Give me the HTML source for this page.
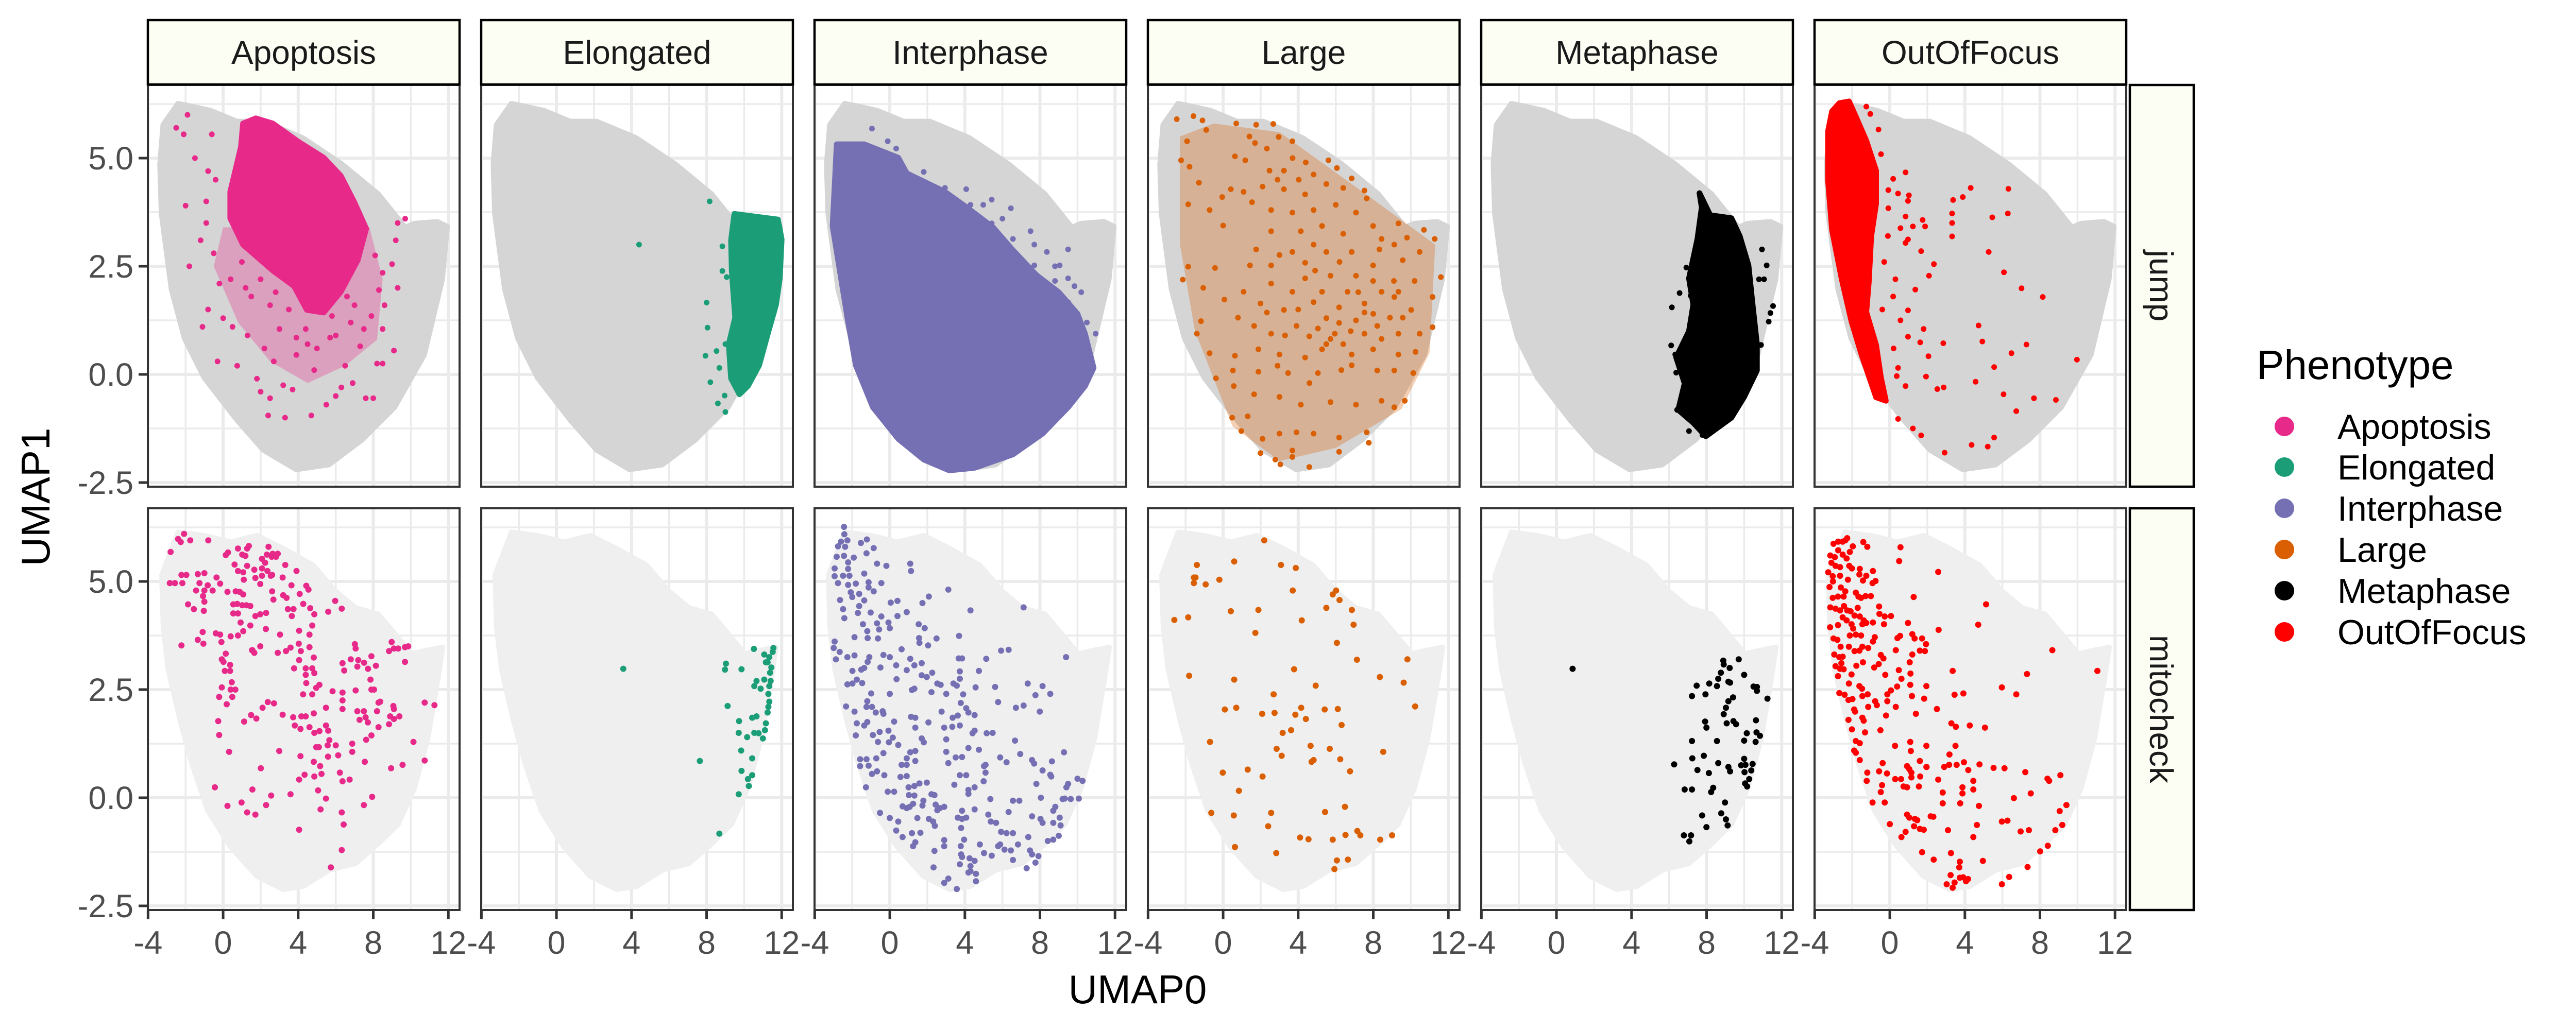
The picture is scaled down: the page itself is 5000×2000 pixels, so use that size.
<!DOCTYPE html>
<html><head><meta charset="utf-8"><style>
html,body{margin:0;padding:0;background:#fff;}
svg{display:block;font-family:"Liberation Sans",sans-serif;}
</style></head><body>
<svg id="chart" width="5000" height="2000" viewBox="0 0 5000 2000" xmlns="http://www.w3.org/2000/svg">
<rect x="0" y="0" width="5000" height="2000" fill="#ffffff"/>
<g id="panels"></g>
<g id="axes"></g>
<text x="2208" y="1948" font-size="78" text-anchor="middle" fill="#000">UMAP0</text>
<text x="0" y="0" font-size="78" text-anchor="middle" fill="#000" transform="translate(96,965) rotate(-90)">UMAP1</text>
<g id="legend">
<text x="4380" y="736" font-size="80" fill="#000">Phenotype</text>
</g>
</svg>
<script>
const phenotypes = ["Apoptosis","Elongated","Interphase","Large","Metaphase","OutOfFocus"];
const colors = ["#E7298A","#1B9E77","#7570B3","#D95F02","#000000","#FF0000"];
const datasets = ["jump","mitocheck"];
const xTicks = [-4,0,4,8,12];
const xTickLabels = ["-4","0","4","8","12"];
const xMinor = [-2,2,6,10];
const yTicks = [-2.5,0,2.5,5];
const yTickLabels = ["-2.5","0.0","2.5","5.0"];
const yMinor = [-1.25,1.25,3.75,6.25];

const jumpGrayHull = [[-2.41,6.26],[-1.7,6.2],[-0.66,6.1],[0.74,5.85],[2.14,5.85],[4.24,5.47],[6.34,4.86],[8.27,4.17],[9.7,3.4],[10.19,3.49],[11.42,3.53],[11.94,3.42],[11.68,2.2],[10.72,0.45],[9.14,-0.76],[7.39,-1.52],[5.64,-2.09],[3.89,-2.2],[2.14,-1.75],[0.74,-1.06],[-1.01,-0.08],[-2.06,0.83],[-2.76,1.97],[-3.29,3.72],[-3.37,4.86],[-3.2,5.77]];
const mitoGrayHull = [[-2.4,6.14],[-1.0,6.06],[0.4,5.91],[1.8,6.06],[3.2,5.76],[4.78,5.38],[6.01,4.77],[7.06,4.39],[8.28,4.24],[10.04,3.33],[10.9,3.41],[11.7,3.48],[11.44,2.73],[10.9,1.36],[10.2,0.23],[9.33,-0.61],[8.28,-1.06],[7.06,-1.52],[5.66,-1.67],[4.26,-2.05],[3.2,-2.12],[1.8,-1.82],[0.4,-1.14],[-0.82,-0.3],[-1.7,0.83],[-2.31,1.82],[-2.92,2.95],[-3.19,3.94],[-3.27,5.15]];

const jumpApoptosisCore = [[1.74,5.92],[2.65,5.8],[4.0,5.38],[5.36,5.01],[6.27,4.59],[6.99,3.98],[7.62,3.37],[7.17,2.64],[6.27,1.91],[5.36,1.43],[4.46,1.49],[3.78,2.04],[2.65,2.4],[1.06,3.0],[0.38,3.61],[0.38,4.22],[0.95,5.26],[1.06,5.8]];
const jumpApoptosisHalo = [[0.0,3.4],[7.8,3.4],[8.5,2.2],[8.2,0.8],[6.5,0.2],[4.5,-0.2],[2.5,0.3],[0.8,1.2],[-0.5,2.5]];
const jumpApoptosisPts = [[-1.9,6.0],[-2.5,5.7],[-2.1,5.55],[-0.6,5.55],[-1.5,5.0],[-0.8,4.7],[-0.4,4.5],[-2.0,3.9],[-0.9,4.0],[-0.9,3.5],[-1.2,3.1],[-1.8,2.5],[-0.5,2.8],[-0.2,2.1],[-0.8,1.5],[-1.1,1.1],[0.0,1.3],[0.5,1.1],[-0.3,0.3],[0.75,0.2],[1.8,-0.1],[2.0,-0.4],[2.4,-0.95],[2.5,-0.55],[3.3,-1.0],[3.2,-0.25],[3.7,-0.35],[4.7,-0.95],[5.5,-0.7],[6.0,-0.5],[6.3,-0.3],[6.9,-0.2],[7.6,-0.55],[8.0,-0.55],[8.2,0.25],[8.5,0.25],[9.1,0.55],[9.7,3.6],[9.3,3.5],[9.2,3.1],[9.0,2.55],[9.3,2.0],[8.5,1.05],[7.3,0.65],[6.5,0.2],[4.85,0.1],[3.9,0.45],[2.7,0.3],[2.2,0.6],[1.3,0.9],[7.5,1.05],[6.6,1.8],[5.7,0.85],[7.9,1.35],[8.3,1.95],[8.5,2.35],[8.1,2.75],[5.0,0.6],[3.9,0.85],[3.0,1.05],[4.4,1.05],[5.8,1.35],[1.5,1.8],[0.4,2.2],[2.5,1.6],[3.5,1.5],[2.0,2.2],[1.0,2.6],[6.8,1.2],[4.5,0.7],[6.0,0.9],[7.0,1.6],[8.6,1.6],[2.8,1.9],[1.2,2.0]];
const mitoApoptosisPts = [[-2.8,5.68],[-2.4,5.98],[-2.08,6.1],[-2.26,5.91],[-1.75,5.95],[-0.79,5.95],[-2.84,4.96],[-2.57,4.96],[-2.17,4.96],[-2.22,5.15],[-1.96,5.15],[-1.35,5.17],[-1.0,5.19],[-1.26,4.96],[-1.44,4.79],[-1.0,4.79],[-0.82,4.91],[-0.56,4.79],[-0.16,4.95],[-0.35,5.09],[-1.07,4.66],[-1.0,4.53],[-1.87,4.47],[-1.56,4.36],[-1.03,4.32],[-2.22,3.52],[-1.35,3.65],[-1.09,3.83],[-1.05,3.56],[-0.39,3.8],[-0.16,3.77],[-0.09,3.6],[0.14,5.61],[0.26,5.67],[0.79,5.76],[1.02,5.62],[1.28,5.76],[1.37,5.82],[1.19,5.59],[0.61,5.39],[0.79,5.24],[1.07,5.21],[1.1,5.04],[1.28,5.36],[1.66,5.27],[1.72,5.08],[0.23,4.76],[0.67,4.77],[0.88,4.76],[1.07,4.7],[1.02,4.45],[0.54,4.47],[0.75,4.48],[1.24,4.45],[1.45,4.43],[0.54,4.26],[0.79,4.26],[0.93,4.05],[1.07,3.85],[0.79,3.75],[0.4,3.73],[1.45,3.98],[1.72,4.2],[1.98,4.24],[2.29,4.27],[2.28,3.9],[1.98,3.5],[1.54,3.41],[1.66,3.35],[2.07,5.52],[2.42,5.8],[2.33,5.62],[2.64,5.64],[2.91,5.64],[2.82,5.57],[2.59,5.57],[2.07,5.3],[2.24,5.43],[2.36,5.24],[2.54,5.13],[2.07,5.13],[1.98,4.94],[2.61,5.15],[3.17,5.09],[3.31,5.38],[3.91,5.24],[3.64,4.91],[3.2,4.68],[3.38,4.62],[4.08,4.71],[4.43,4.9],[4.55,4.81],[2.61,4.77],[2.68,4.58],[3.45,4.36],[3.66,4.2],[3.75,4.36],[4.27,4.48],[4.64,4.38],[4.86,4.24],[4.75,3.98],[4.6,3.77],[4.05,3.86],[4.03,3.56],[3.03,3.77],[3.35,3.39],[3.59,3.47],[2.91,3.35],[4.05,3.18],[4.6,3.48],[4.14,3.39],[4.83,3.24],[3.78,2.99],[4.4,2.99],[4.75,2.99],[4.86,2.88],[4.4,2.84],[4.43,2.65],[4.96,2.54],[5.13,2.61],[4.75,2.39],[4.26,2.39],[5.83,2.46],[5.48,2.08],[6.36,2.25],[6.36,2.05],[5.97,4.55],[6.32,4.37],[5.6,4.3],[7.02,3.55],[7.06,3.45],[6.36,3.11],[6.45,2.94],[6.8,3.2],[7.2,3.18],[7.15,3.03],[7.51,3.12],[7.72,2.98],[7.9,3.27],[8.14,3.05],[7.06,2.48],[7.85,2.73],[7.9,2.5],[8.04,2.5],[8.28,2.2],[8.37,2.22],[8.2,2.0],[7.15,2.0],[7.5,2.0],[7.27,1.8],[7.59,1.86],[7.71,1.74],[8.28,1.63],[7.9,1.44],[7.62,1.34],[6.36,2.43],[5.48,1.67],[5.6,1.55],[5.13,1.54],[4.86,1.5],[4.6,1.63],[4.12,1.59],[3.82,1.67],[4.17,1.88],[4.4,1.88],[4.83,1.95],[8.98,3.6],[8.84,3.39],[9.1,3.45],[9.33,3.45],[9.69,3.48],[9.86,3.5],[9.69,3.14],[9.07,2.12],[9.1,2.05],[8.9,1.88],[9.1,1.82],[9.39,1.88],[8.84,1.7],[10.74,2.2],[11.26,2.14],[10.14,1.29],[10.74,0.86],[9.56,0.76],[8.95,0.68],[7.55,0.83],[6.74,0.42],[6.88,1.25],[6.13,0.98],[6.22,0.58],[5.59,0.95],[5.57,1.21],[5.1,1.17],[4.96,1.17],[4.83,0.83],[5.17,0.73],[5.24,0.55],[4.86,0.49],[4.34,0.53],[4.12,0.96],[4.05,0.42],[3.59,0.08],[2.56,0.05],[2.29,-0.17],[2.01,0.68],[1.56,0.19],[1.28,-0.34],[1.72,-0.39],[0.98,-0.11],[0.23,-0.19],[-0.44,0.24],[0.32,1.06],[-0.21,1.45],[-0.26,1.77],[0.19,2.16],[-0.21,2.33],[-0.07,2.55],[0.4,2.5],[0.65,2.5],[0.49,2.33],[0.46,2.67],[0.37,2.93],[0.09,2.93],[0.37,3.07],[0.14,3.33],[0.02,3.14],[-0.07,3.2],[1.56,3.41],[1.49,1.91],[1.77,1.83],[1.12,1.76],[2.1,2.08],[2.38,2.21],[2.71,2.18],[3.17,1.92],[3.73,1.86],[2.99,1.08],[4.05,-0.74],[5.06,0.17],[5.48,-0.02],[5.19,-0.27],[6.42,-0.62],[6.32,-1.21],[5.74,-1.61],[6.32,-0.34],[6.36,0.38],[7.5,-0.17],[7.94,0.02],[6.88,1.06],[6.0,1.21],[5.66,1.33]];

const jumpElongatedCore = [[9.48,3.71],[11.8,3.58],[12.0,3.12],[11.9,2.22],[11.7,1.61],[11.3,1.0],[10.8,0.21],[10.2,-0.27],[9.75,-0.46],[9.3,-0.09],[9.18,0.7],[9.52,1.31],[9.34,2.4],[9.3,3.1]];
const jumpElongatedPts = [[8.16,4.0],[4.4,3.0],[8.84,2.96],[8.84,2.39],[9.07,2.25],[8.0,1.66],[8.05,1.08],[7.94,0.43],[8.53,0.54],[8.2,-0.18],[8.6,-0.67],[9.0,-0.87],[8.96,-0.49],[8.68,0.15],[9.0,0.7]];
const mitoElongatedPts = [[10.52,3.44],[11.56,3.46],[11.52,3.37],[11.34,3.25],[11.25,3.13],[11.45,3.01],[11.38,2.89],[11.07,2.73],[10.66,2.7],[10.54,2.58],[10.88,2.52],[11.34,2.58],[11.29,2.4],[11.34,2.22],[11.29,2.1],[11.25,1.97],[10.66,1.88],[10.43,1.85],[11.16,1.72],[11.11,1.56],[10.77,1.49],[10.54,1.5],[11.0,1.37],[10.16,1.4],[9.73,1.77],[9.71,1.5],[9.12,2.12],[9.03,3.1],[8.98,2.96],[9.86,2.97],[3.56,2.98],[9.84,1.09],[10.43,0.91],[7.64,0.85],[9.86,0.62],[10.43,0.52],[10.2,0.43],[10.25,0.27],[9.71,0.08],[8.68,-0.83],[11.07,3.31],[11.16,3.13],[11.41,2.7]];

const jumpInterphaseCore = [[-2.83,5.32],[-1.36,5.32],[0.45,5.01],[0.9,4.65],[2.94,4.22],[4.1,3.86],[5.5,3.4],[6.5,2.9],[7.8,2.3],[9.0,1.9],[10.0,1.4],[10.4,0.94],[10.86,0.15],[10.4,-0.27],[9.5,-0.76],[8.14,-1.37],[6.56,-1.85],[4.52,-2.16],[3.17,-2.22],[1.81,-1.97],[0.45,-1.49],[-0.9,-0.76],[-1.81,0.21],[-2.26,1.31],[-2.71,2.52],[-3.05,3.43],[-2.94,4.34]];
const jumpInterphasePts = [[4.3,3.92],[5.43,3.49],[6.56,3.13],[7.7,3.0],[8.37,2.83],[9.05,2.52],[9.5,2.22],[9.84,2.04],[6.45,3.84],[4.98,3.92],[7.0,2.64],[6.1,3.0],[7.7,2.52],[8.8,2.16],[9.5,1.67],[10.97,0.94],[4.5,3.43],[5.43,4.04],[7.5,3.31],[9.5,2.89],[-0.95,5.68],[-0.11,5.39],[0.34,5.22],[-1.7,5.01],[1.81,4.68],[2.94,4.31],[4.07,4.28],[10.2,1.9],[10.5,1.2],[8.8,2.5],[6.0,3.6],[3.4,4.0]];
const mitoInterphasePts = [[-2.44,6.26],[-2.42,6.09],[-2.6,5.92],[-2.26,5.95],[-2.76,5.81],[-2.38,5.8],[-1.54,5.89],[-1.22,5.97],[-0.86,5.77],[-1.24,5.65],[-2.83,5.57],[-2.44,5.59],[-1.92,5.55],[-2.22,5.44],[-2.94,5.3],[-2.22,5.29],[-2.94,5.12],[-2.49,5.13],[-2.15,5.13],[-1.36,5.18],[-0.68,5.41],[-0.18,5.36],[-2.76,4.96],[-2.22,4.92],[-1.81,4.95],[-1.13,4.98],[-0.45,4.96],[-2.08,4.75],[-1.63,4.71],[-1.13,4.86],[-2.65,4.57],[-2.0,4.64],[-1.36,4.56],[-0.86,4.77],[-1.63,4.43],[-2.49,4.36],[-1.7,4.27],[-1.02,4.28],[-0.45,4.19],[-2.42,4.15],[-1.43,4.01],[-0.68,4.03],[-0.07,4.05],[-0.57,3.89],[-1.2,3.85],[0.0,3.92],[0.41,4.2],[0.9,4.29],[0.05,4.51],[0.41,4.55],[1.13,5.24],[1.09,5.41],[2.08,4.65],[1.74,4.5],[3.12,4.81],[1.54,4.01],[1.86,3.92],[1.56,3.69],[2.49,3.68],[2.04,3.52],[1.58,3.58],[3.69,3.74],[4.3,4.33],[7.13,4.4],[5.93,3.4],[6.33,3.42],[5.14,3.21],[3.67,3.22],[3.85,3.22],[9.39,3.25],[-2.94,3.61],[-2.99,3.46],[-2.67,3.37],[-2.87,3.2],[-2.26,3.25],[-1.88,3.29],[-1.09,3.25],[-1.18,3.14],[-1.88,3.71],[-1.18,3.69],[-0.63,3.68],[-0.34,3.3],[0.0,3.25],[0.63,3.43],[1.09,3.21],[1.7,3.11],[1.31,3.06],[0.34,3.06],[-0.5,3.01],[-1.36,3.0],[-1.52,2.96],[-1.99,2.93],[-1.76,2.73],[-2.26,2.62],[-1.99,2.64],[-1.47,2.65],[0.36,2.74],[0.9,2.95],[1.7,2.83],[1.97,2.79],[2.26,2.89],[3.73,2.92],[3.73,2.75],[4.75,2.93],[2.53,2.64],[2.71,2.61],[3.39,2.64],[3.57,2.59],[4.57,2.55],[5.61,2.56],[7.35,2.64],[8.14,2.58],[8.55,2.4],[7.76,2.37],[5.77,2.21],[6.72,2.08],[7.13,2.13],[7.99,1.99],[1.18,2.49],[1.31,2.52],[2.22,2.44],[3.01,2.4],[3.91,2.39],[0.0,2.4],[-0.99,2.41],[-1.2,2.23],[-1.24,2.1],[-2.33,2.11],[-1.88,1.99],[-0.95,2.1],[-0.75,1.97],[-0.34,1.94],[-0.38,2.0],[2.76,1.99],[3.78,2.19],[4.07,2.07],[4.19,1.97],[4.52,1.91],[3.62,1.9],[3.35,1.85],[1.13,1.87],[1.36,1.85],[2.06,1.74],[0.23,1.76],[2.9,1.62],[3.33,1.64],[3.73,1.67],[4.52,1.55],[4.41,1.49],[5.16,1.49],[5.48,1.5],[1.36,1.62],[-1.76,1.72],[-1.2,1.75],[-1.36,1.67],[-1.81,1.44],[-0.9,1.45],[-0.54,1.52],[-0.07,1.55],[0.16,1.39],[-0.63,1.29],[-0.05,1.28],[0.45,1.22],[1.7,1.37],[1.81,1.28],[3.01,1.35],[1.36,1.08],[1.09,1.05],[3.01,1.06],[4.19,1.15],[4.75,1.11],[6.67,1.32],[3.51,0.93],[3.85,0.94],[3.12,0.8],[0.9,0.91],[0.9,0.76],[1.36,0.85],[-0.34,1.03],[-0.72,0.91],[-1.58,0.89],[-1.24,0.89],[-1.58,0.73],[-1.13,0.74],[-0.95,0.55],[-0.68,0.61],[-0.29,0.52],[0.57,0.48],[0.9,0.5],[0.63,0.76],[-1.27,0.24],[-0.11,0.14],[0.23,0.14],[1.0,0.24],[1.31,0.27],[1.58,0.33],[1.97,0.35],[1.02,0.06],[1.31,0.05],[2.22,0.08],[2.38,0.06],[1.79,-0.07],[3.73,0.52],[4.07,0.52],[3.44,0.3],[4.19,0.18],[4.19,0.09],[4.52,0.24],[5.0,0.38],[5.1,0.58],[5.1,0.76],[5.02,0.73],[6.22,0.82],[5.88,0.93],[6.95,1.01],[7.58,0.87],[7.69,0.79],[8.64,0.84],[9.28,1.05],[8.55,0.53],[8.6,0.49],[8.14,0.63],[7.81,0.32],[9.5,0.32],[9.41,0.24],[10.0,0.44],[10.27,0.39],[9.32,-0.02],[9.64,-0.03],[10.07,-0.02],[9.21,-0.03],[8.05,0.0],[6.56,-0.07],[6.9,-0.07],[5.36,-0.03],[8.82,-0.21],[8.71,-0.3],[9.05,-0.46],[9.1,-0.64],[8.71,-0.58],[8.03,-0.49],[8.14,-0.58],[7.58,-0.43],[6.33,-0.33],[5.25,-0.39],[4.52,-0.27],[3.85,-0.3],[3.62,-0.46],[4.07,-0.46],[2.9,-0.21],[2.53,-0.29],[2.67,-0.24],[2.44,-0.16],[1.74,-0.18],[1.24,-0.14],[0.9,-0.24],[1.06,-0.21],[0.68,-0.2],[-0.52,-0.35],[0.0,-0.47],[0.45,-0.55],[0.34,-0.76],[0.68,-0.91],[1.18,-0.82],[1.47,-0.47],[2.08,-0.49],[2.31,-0.55],[2.4,-0.65],[1.63,-0.81],[1.24,-1.12],[1.36,-1.03],[3.8,-0.7],[3.85,-0.49],[5.38,-0.55],[5.66,-0.58],[5.93,-0.79],[6.22,-0.82],[6.56,-0.82],[7.38,-0.91],[8.42,-1.0],[8.71,-0.97],[9.0,-0.88],[2.38,-1.23],[2.9,-1.12],[2.9,-0.98],[3.78,-1.12],[3.96,-0.97],[4.8,-1.08],[5.02,-1.28],[5.43,-1.34],[5.77,-1.12],[5.88,-1.08],[6.11,-1.2],[6.45,-1.22],[6.83,-1.08],[7.47,-1.22],[7.58,-1.31],[7.92,-1.35],[7.76,-1.5],[7.29,-1.63],[6.56,-1.44],[3.85,-1.37],[3.8,-1.31],[4.25,-1.4],[4.52,-1.46],[3.73,-1.54],[2.33,-1.61],[4.3,-1.58],[4.3,-1.7],[4.19,-1.73],[4.59,-1.76],[4.59,-1.93],[3.12,-1.87],[2.9,-1.97],[3.57,-2.11]];

const jumpLargeHalo = [[-0.5,5.8],[3.0,5.6],[7.5,4.2],[11.3,3.0],[11.0,0.5],[9.5,-0.8],[6.0,-1.7],[3.0,-2.0],[0.5,-1.2],[-1.5,1.0],[-2.3,3.0],[-2.3,5.5]];
const jumpLargePts = [[-2.47,5.9],[-1.58,5.97],[-1.1,5.87],[-0.9,5.65],[-1.92,5.39],[-2.24,4.95],[-1.79,4.8],[-1.29,4.43],[-1.86,3.93],[-0.72,3.8],[0,3.44],[0.7,5.8],[1.76,5.77],[2.67,5.79],[1.7,5.35],[2.33,5.22],[2.96,5.49],[3.69,5.39],[0.63,5.04],[1.18,4.95],[2.47,4.71],[3.24,4.71],[4.03,4.5],[4.82,4.62],[5.61,4.95],[6.06,4.77],[6.85,4.53],[7.53,4.25],[7.65,4.07],[6.4,4.31],[5.5,4.4],[4.37,4.16],[3.24,4.28],[2.1,4.34],[1.09,4.22],[0.41,4.28],[-0.05,4.1],[1.54,3.98],[2.56,3.8],[3.69,3.74],[4.82,3.8],[6.0,3.92],[7.08,3.74],[7.99,3.43],[9.34,3.49],[9.8,3.16],[11.27,3.13],[10.7,3.34],[6.4,3.25],[5.27,3.43],[4.14,3.31],[2.56,3.31],[1.76,2.89],[3.0,2.76],[4.37,2.58],[5.5,2.83],[6.85,2.83],[8.33,2.89],[9.57,2.64],[10.47,2.83],[11.6,2.25],[11.16,1.79],[10.2,2.16],[9.1,2.16],[7.99,2.16],[7.08,2.28],[5.72,2.28],[4.37,2.22],[2.56,2.1],[1.09,1.91],[-0.43,2.46],[-1.86,2.49],[-2.15,2.19],[-1.06,2.0],[0.07,1.73],[1.99,1.64],[3.24,1.49],[4.82,1.67],[6.18,1.55],[7.53,1.64],[9.12,1.79],[10.02,1.49],[11.16,1.09],[10.47,0.94],[9.34,0.94],[8.21,1.12],[7.08,1.25],[5.95,0.94],[5.05,1.06],[3.91,1.12],[2.56,0.94],[1.65,1.12],[0.79,1.31],[-1.18,1.23],[-1.4,0.94],[-0.72,0.49],[0.63,0.43],[1.88,0.58],[3.0,0.46],[4.37,0.39],[5.5,0.7],[6.85,0.46],[7.99,0.58],[9.34,0.46],[10.25,0.52],[10.13,0.03],[9.12,0.09],[8.21,0.09],[6.85,0.21],[5.05,0.03],[3.46,0.03],[1.88,0.06],[0.52,0.09],[-0.38,-0.09],[0.57,-0.27],[1.65,-0.46],[3.0,-0.52],[4.14,-0.7],[5.72,-0.64],[7.08,-0.7],[8.44,-0.61],[9.68,-0.61],[9.12,-0.76],[0.48,-1.0],[1.31,-0.97],[0.97,-1.31],[2.1,-1.49],[3.0,-1.37],[3.91,-1.34],[4.82,-1.37],[6.18,-1.46],[7.65,-1.34],[7.76,-1.58],[1.99,-1.82],[3.69,-1.76],[6.18,-1.79],[2.78,-1.97],[3.05,-2.08],[4.59,-2.14],[3.69,-1.91],[5.72,0.82],[6.4,0.7],[5.27,0.58],[4.59,0.88],[8.44,0.82],[8.89,1.31],[7.53,1.43],[3.69,1.91],[5.27,1.91],[6.63,1.91],[8.44,1.91],[7.99,2.52],[9.12,3.0],[8.44,3.13],[4.82,3.0],[3.69,2.83],[2.56,2.52],[1.43,2.52],[2.33,1.43],[6.18,1.19],[7.53,0.94],[9.57,1.31],[9.34,1.91],[4.0,1.5],[5.5,1.3],[6.8,1.0],[3.3,0.9],[4.9,2.4],[6.2,2.6],[7.2,1.9],[8.0,1.4],[2.9,0.2],[4.6,-0.2],[6.3,0.1],[3.7,5.0],[2.9,4.5],[1.4,5.5],[4.4,4.9]];
const mitoLargePts = [[2.19,5.95],[0.59,5.46],[3.08,5.38],[3.87,5.31],[-1.4,5.38],[-1.56,5.09],[-1.47,5.09],[-1.56,4.96],[-0.93,4.93],[-0.2,5.04],[3.71,4.79],[6.02,4.79],[5.84,4.7],[6.2,4.57],[5.5,4.39],[6.86,4.34],[0.41,4.31],[1.88,4.34],[4.19,4.1],[6.95,4.0],[-2.6,4.11],[-1.86,4.17],[1.72,3.81],[6.06,3.58],[7.13,3.19],[9.82,3.2],[3.78,2.97],[8.35,2.79],[9.62,2.66],[-1.81,2.82],[0.59,2.73],[4.93,2.59],[2.69,2.39],[10.23,2.11],[0.09,2.04],[0.7,2.08],[2.08,1.94],[2.74,1.96],[3.85,1.92],[4.16,2.08],[5.41,2.04],[6.11,2.05],[4.41,1.82],[6.31,1.68],[3.17,1.5],[3.62,1.56],[-0.7,1.29],[2.85,1.13],[3.12,0.97],[4.66,1.2],[5.68,1.13],[8.53,1.06],[4.71,0.83],[4.82,0.87],[6.24,0.89],[1.31,0.65],[-0.02,0.58],[2.1,0.49],[6.76,0.61],[0.84,0.16],[6.49,-0.21],[-0.63,-0.35],[0.57,-0.41],[2.56,-0.35],[5.43,-0.33],[2.4,-0.66],[4.1,-0.92],[4.55,-0.96],[5.84,-0.97],[6.52,-0.86],[7.15,-0.77],[7.31,-0.87],[8.37,-0.97],[9.0,-0.87],[0.63,-1.14],[2.83,-1.28],[6.06,-1.45],[6.65,-1.43],[5.93,-1.65]];

const jumpMetaphaseCore = [[7.62,4.19],[8.19,3.68],[9.32,3.61],[9.77,3.19],[10.23,2.52],[10.45,1.61],[10.68,0.7],[10.68,0.09],[10.0,-0.52],[9.32,-1.0],[7.96,-1.43],[7.29,-1.12],[6.49,-0.82],[6.83,-0.21],[6.38,0.39],[7.06,1.0],[7.29,1.61],[7.06,2.22],[7.51,3.13],[7.74,3.86]];
const jumpMetaphasePts = [[6.15,1.55],[6.56,1.88],[7.15,1.82],[6.92,2.47],[10.95,2.89],[11.2,2.52],[10.79,2.2],[11.06,2.2],[11.54,1.58],[11.4,1.42],[11.31,1.22],[10.9,0.68],[6.11,0.67],[6.33,0.46],[6.38,0.04],[6.43,-0.82],[7.06,-1.31],[7.78,-1.4]];
const mitoMetaphasePts = [[0.86,2.98],[9.71,3.2],[8.89,3.17],[8.91,3.08],[9.23,3.0],[8.76,2.89],[10.0,2.84],[8.62,2.75],[9.16,2.68],[9.25,2.66],[8.14,2.64],[7.47,2.59],[8.55,2.58],[10.5,2.57],[10.68,2.56],[10.68,2.47],[7.94,2.39],[7.22,2.35],[9.41,2.32],[9.16,2.23],[11.24,2.29],[9.03,2.08],[8.91,1.93],[10.63,1.79],[7.92,1.76],[7.99,1.62],[9.07,1.72],[9.43,1.77],[9.57,1.7],[10.14,1.49],[10.66,1.51],[10.84,1.43],[7.22,1.31],[8.55,1.31],[10.0,1.32],[10.61,1.29],[7.24,0.91],[7.85,0.97],[10.0,0.9],[6.27,0.77],[8.62,0.8],[9.16,0.71],[9.84,0.75],[10.07,0.76],[10.45,0.78],[7.51,0.64],[9.25,0.61],[10.02,0.59],[10.38,0.63],[8.12,0.57],[10.27,0.43],[10.05,0.33],[10.16,0.26],[6.83,0.19],[7.22,0.19],[8.35,0.23],[8.24,0.13],[8.98,-0.11],[7.76,-0.41],[8.78,-0.36],[9.03,-0.5],[9.12,-0.64],[7.99,-0.68],[6.79,-0.87],[7.17,-0.87],[7.08,-1.01]];

const jumpOutOfFocusCore = [[-2.69,6.27],[-2.17,6.31],[-1.78,5.93],[-1.25,5.4],[-0.73,4.71],[-0.73,3.95],[-0.99,3.19],[-1.12,2.13],[-1.25,1.44],[-0.73,0.68],[-0.47,-0.08],[-0.21,-0.61],[-0.73,-0.53],[-1.51,0.46],[-2.04,1.22],[-2.56,2.2],[-3.08,3.34],[-3.29,4.48],[-3.29,5.62],[-3.08,6.08]];
const jumpOutOfFocusPts = [[-1.25,6.19],[-1.04,6.02],[-0.6,5.66],[-0.47,5.09],[0.84,4.67],[0.18,4.52],[-0.08,4.26],[0.44,4.18],[1.02,4.14],[0.97,4.01],[-0.08,3.84],[0.84,3.65],[1.75,3.57],[1.23,3.42],[0.57,3.38],[0.97,3.12],[1.67,2.85],[2.35,2.55],[2.09,2.28],[1.36,1.96],[0.18,1.8],[0.97,1.48],[0.57,1.25],[1.8,1.05],[0.97,0.87],[1.62,0.74],[2.85,0.72],[2.06,0.42],[0.37,-0.04],[0.44,0.15],[0.84,-0.27],[1.93,-0.05],[2.53,-0.34],[2.87,-0.3],[0.44,-1.03],[1.23,-1.25],[1.67,-1.41],[2.92,-1.81],[4.36,-1.63],[5.22,-1.67],[5.56,-1.46],[4.57,-0.17],[6.06,-0.46],[6.74,-0.85],[7.68,-0.55],[8.85,-0.59],[9.97,0.34],[7.28,0.69],[6.48,0.49],[5.56,0.17],[4.93,0.76],[4.73,1.13],[8.15,1.79],[7.02,1.99],[6.08,2.36],[5.27,2.83],[3.32,3.19],[3.32,3.5],[3.32,3.72],[3.37,4.03],[3.89,4.1],[4.31,4.31],[5.46,3.63],[6.29,3.72],[6.32,4.29],[0.84,3.04],[1.88,3.42],[-0.3,2.6],[-0.4,1.5],[0.2,0.6],[-0.1,3.2],[0.3,2.2]];
const mitoOutOfFocusPts = [[-3.0,5.87],[-2.75,5.92],[-2.51,5.92],[-2.27,6.0],[-2.37,5.95],[-1.97,5.81],[-1.41,5.91],[-1.2,5.8],[-3.17,5.6],[-2.93,5.56],[-2.75,5.72],[-2.51,5.62],[-2.3,5.53],[-2.13,5.68],[-3.11,5.43],[-2.89,5.36],[-2.65,5.33],[-2.16,5.36],[-2.02,5.3],[-3.28,5.21],[-3.04,5.12],[-2.65,5.13],[-2.23,5.04],[-1.6,5.29],[-1.62,5.16],[-1.43,5.02],[-1.25,5.13],[-0.9,5.24],[-0.76,5.01],[-0.92,4.96],[-3.21,4.87],[-3.03,5.0],[-2.61,4.86],[-2.37,4.77],[-3.04,4.62],[-2.76,4.65],[-2.46,4.65],[-1.81,4.74],[-1.67,4.65],[-1.53,4.62],[-1.29,4.66],[-1.01,4.66],[-3.17,4.4],[-2.89,4.37],[-2.65,4.33],[-2.44,4.43],[-2.27,4.33],[-2.09,4.31],[-1.88,4.21],[-1.71,4.39],[-1.6,4.19],[-1.39,4.1],[-2.51,4.17],[-2.3,4.1],[-2.04,4.01],[-1.46,4.01],[-1.25,4.04],[-0.9,4.05],[-0.57,4.42],[-0.55,4.25],[-0.27,4.19],[0.06,4.2],[-0.31,4.01],[-3.18,3.94],[-2.76,3.99],[-1.95,3.91],[-1.81,3.77],[-1.53,3.75],[-2.13,3.75],[-3.0,3.68],[-2.79,3.65],[-2.62,3.49],[-2.18,3.49],[-1.88,3.39],[-1.46,3.49],[-1.15,3.46],[-1.62,3.4],[-0.8,3.71],[-0.9,3.61],[-2.96,3.31],[-2.69,3.25],[-2.51,3.26],[-2.89,3.04],[-2.58,3.11],[-2.65,2.98],[-2.46,2.97],[-2.76,2.81],[-2.04,2.85],[-1.78,3.05],[-1.43,3.13],[-0.83,3.01],[-0.59,3.09],[-0.48,3.3],[-0.34,3.22],[-0.24,2.84],[-2.18,2.64],[-1.62,2.58],[-1.48,2.52],[-2.69,2.42],[-2.41,2.38],[-2.2,2.26],[-1.99,2.28],[-1.46,2.35],[-1.18,2.39],[-1.15,2.1],[-0.78,2.23],[-0.69,2.14],[-1.9,2.04],[-1.85,1.99],[-1.46,1.85],[-1.39,1.78],[-2.2,1.8],[-2.02,1.58],[-1.32,1.51],[-0.5,1.56],[-1.81,1.31],[-1.6,1.26],[-1.9,1.09],[-1.81,1.04],[-1.6,0.87],[-1.2,0.58],[-1.23,0.39],[-0.38,0.8],[-0.57,0.61],[-0.41,0.29],[-0.48,0.13],[-0.92,-0.11],[-0.27,-0.11],[-0.15,0.56],[-0.13,2.39],[-0.13,2.23],[-0.2,1.9],[0.06,2.48],[0.32,2.1],[0.39,2.57],[0.48,2.95],[0.62,2.75],[1.06,3.13],[1.1,2.87],[1.09,2.61],[1.18,2.35],[1.39,1.94],[1.83,2.29],[1.95,2.58],[0.97,4.04],[1.2,3.78],[1.32,3.68],[1.72,3.68],[1.93,3.55],[1.6,3.4],[1.87,3.39],[1.2,3.31],[0.55,3.74],[0.41,3.69],[0.32,3.41],[0.57,5.79],[0.5,5.47],[1.27,4.64],[2.58,5.22],[2.6,3.88],[5.13,4.47],[4.71,4.0],[0.28,1.2],[1.12,1.08],[1.09,1.29],[1.95,1.2],[1.6,0.85],[1.96,0.71],[0.92,0.73],[1.04,0.66],[1.15,0.58],[1.15,0.47],[1.62,0.49],[0.29,0.43],[0.6,0.43],[0.73,0.26],[0.92,0.24],[1.55,0.26],[2.51,2.05],[3.28,1.72],[3.52,1.64],[4.26,1.67],[5.07,1.62],[3.92,2.41],[3.45,2.38],[5.97,2.55],[6.74,2.39],[7.31,2.86],[8.66,3.41],[11.06,2.93],[3.35,2.93],[3.5,1.2],[3.18,1.0],[3.16,0.76],[3.56,0.76],[3.95,0.82],[4.18,0.64],[2.9,0.71],[2.58,0.42],[1.95,0.71],[2.82,0.12],[2.82,-0.13],[3.75,-0.13],[3.87,0.1],[3.87,0.24],[4.45,0.19],[4.45,0.39],[4.78,0.77],[5.53,0.69],[6.11,0.68],[4.75,-0.19],[6.61,-0.01],[7.51,0.1],[7.22,0.59],[8.4,0.44],[8.49,0.39],[9.09,0.52],[9.41,-0.17],[9.05,-0.31],[9.19,-0.63],[8.82,-0.75],[8.42,-1.11],[8.01,-1.24],[7.41,-0.75],[6.97,-0.78],[7.34,-1.6],[6.36,-1.83],[5.97,-2.0],[5.97,-0.55],[6.27,-0.53],[4.64,-0.63],[4.45,-0.91],[4.96,-1.46],[3.73,-1.48],[3.7,-1.61],[3.26,-1.28],[3.24,-1.79],[3.03,-2.0],[3.35,-2.08],[3.45,-1.96],[3.73,-1.85],[3.91,-1.84],[4.17,-1.88],[4.06,-1.93],[3.1,-0.75],[2.34,-1.43],[1.72,-1.26],[1.81,-0.74],[1.6,-0.72],[1.29,-0.66],[1.34,-0.49],[1.04,-0.46],[1.46,-0.52],[2.18,-0.43],[2.32,-0.44],[0.84,-0.79],[0.62,-0.91],[0.0,-0.61],[0.92,-0.39]];

const halos = {
  jump: [jumpApoptosisHalo, null, null, jumpLargeHalo, null, null],
  mitocheck: [null, null, null, null, null, null]
};
const cores = {
  jump: [jumpApoptosisCore, jumpElongatedCore, jumpInterphaseCore, null, jumpMetaphaseCore, jumpOutOfFocusCore],
  mitocheck: [null, null, null, null, null, null]
};
const pts = {
  jump: [jumpApoptosisPts, jumpElongatedPts, jumpInterphasePts, jumpLargePts, jumpMetaphasePts, jumpOutOfFocusPts],
  mitocheck: [mitoApoptosisPts, mitoElongatedPts, mitoInterphasePts, mitoLargePts, mitoMetaphasePts, mitoOutOfFocusPts]
};

const NS = "http://www.w3.org/2000/svg";
const PANEL_W = 605, PITCH = 647, LEFT0 = 287;
const ROW_TOP = [165, 987], PANEL_H = 780;
const XMIN = -4.01, XPX = 36.43, YMAX = 6.69, YPX = 84;
function sx(i, x){ return LEFT0 + i*PITCH + (x - XMIN)*XPX; }
function sy(r, y){ return ROW_TOP[r] + (YMAX - y)*YPX; }
function mk(tag, attrs, parent){
  const el = document.createElementNS(NS, tag);
  for (const k in attrs) el.setAttribute(k, attrs[k]);
  parent.appendChild(el);
  return el;
}
const svg = document.getElementById('chart');
const panelsG = document.getElementById('panels');
const axesG = document.getElementById('axes');
const defs = mk('defs', {}, svg);

function polyPath(i, r, arr){
  return arr.map((p,k)=>(k?'L':'M')+sx(i,p[0]).toFixed(1)+','+sy(r,p[1]).toFixed(1)).join(' ')+'Z';
}

datasets.forEach((ds, r) => {
  phenotypes.forEach((ph, i) => {
    const L = LEFT0 + i*PITCH, T = ROW_TOP[r];
    const g = mk('g', {}, panelsG);
    
    
    const cp = mk('clipPath', {id: 'cp'+r+'_'+i}, defs);
    mk('rect', {x:L, y:T, width:PANEL_W, height:PANEL_H}, cp);
    const inner = mk('g', {'clip-path': 'url(#cp'+r+'_'+i+')'}, g);
    xMinor.forEach(v => { const ln = mk('line', {x1:sx(i,v), x2:sx(i,v), y1:T, y2:T+PANEL_H, stroke:'#EBEBEB', 'stroke-width':3.5}, inner);
        });
    yMinor.forEach(v => { const ln = mk('line', {x1:L, x2:L+PANEL_W, y1:sy(r,v), y2:sy(r,v), stroke:'#EBEBEB', 'stroke-width':3.5}, inner);
        });
    xTicks.forEach(v => { const ln = mk('line', {x1:sx(i,v), x2:sx(i,v), y1:T, y2:T+PANEL_H, stroke:'#EBEBEB', 'stroke-width':6}, inner);
        });
    yTicks.forEach(v => { const ln = mk('line', {x1:L, x2:L+PANEL_W, y1:sy(r,v), y2:sy(r,v), stroke:'#EBEBEB', 'stroke-width':6}, inner);
        });
    const hull = r === 0 ? jumpGrayHull : mitoGrayHull;
    const gp = mk('path', {d: polyPath(i, r, hull), fill: r===0 ? '#D5D5D5' : '#EFEFEF', stroke: r===0 ? '#D5D5D5' : '#EFEFEF', 'stroke-width': 10, 'stroke-linejoin':'round'}, inner);
    
    
    const halo = halos[ds][i];
    if (halo) {
      const hp = mk('path', {d: polyPath(i, r, halo), fill: colors[i], 'fill-opacity': 0.3, stroke: 'none'}, inner);
      
      
    }
    const core = cores[ds][i];
    if (core) {
      const cpth = mk('path', {d: polyPath(i, r, core), fill: colors[i], stroke: colors[i], 'stroke-width': 11, 'stroke-linejoin':'round'}, inner);
      
      
    }
    const rad = r === 0 ? 5.5 : 6;
    pts[ds][i].forEach(p => {
      const c = mk('circle', {cx: sx(i,p[0]).toFixed(1), cy: sy(r,p[1]).toFixed(1), r: rad, fill: colors[i]}, inner);
      
      
    });
    const border = mk('rect', {x:L, y:T, width:PANEL_W, height:PANEL_H, fill:'none', stroke:'#333333', 'stroke-width':4}, g);
    
    
    if (r === 0) {
      const sg = mk('g', {}, g);
      
      
      mk('rect', {x:L, y:39, width:PANEL_W, height:125, fill:'#FCFDF3', stroke:'#000', 'stroke-width':4.5}, sg);
      const t = mk('text', {x: L + PANEL_W/2, y: 124, 'font-size': 64, 'text-anchor':'middle', fill:'#1A1A1A'}, sg);
      t.textContent = ph;
      
      
    }
    if (r === 1) {
      xTicks.forEach((v, k) => {
        const tk = mk('line', {x1:sx(i,v), x2:sx(i,v), y1:T+PANEL_H, y2:T+PANEL_H+18, stroke:'#333333', 'stroke-width':5}, axesG);
        
        
        const tl = mk('text', {x:sx(i,v), y:1852, 'font-size':63, 'text-anchor':'middle', fill:'#4D4D4D'}, axesG);
        tl.textContent = xTickLabels[k];
        
        
      });
    }
    if (i === 0) {
      yTicks.forEach((v, k) => {
        const tk = mk('line', {x1:L-18, x2:L, y1:sy(r,v), y2:sy(r,v), stroke:'#333333', 'stroke-width':5}, axesG);
        
        
        const tl = mk('text', {x:L-28, y:sy(r,v)+22, 'font-size':63, 'text-anchor':'end', fill:'#4D4D4D'}, axesG);
        tl.textContent = yTickLabels[k];
        
        
      });
    }
  });
  const T = ROW_TOP[r];
  const rg = mk('g', {}, panelsG);
  
  
  mk('rect', {x:4134, y:T, width:124, height:PANEL_H, fill:'#FCFDF3', stroke:'#000', 'stroke-width':4.5}, rg);
  const t = mk('text', {x:0, y:0, 'font-size':64, 'text-anchor':'middle', fill:'#1A1A1A', transform:'translate(4173,'+(T+PANEL_H/2)+') rotate(90)'}, rg);
  t.textContent = ds;
  
  
});

const legendG = document.getElementById('legend');
const legendRowY = [828, 907, 987, 1067, 1147, 1227];
phenotypes.forEach((ph, k) => {
  const eg = mk('g', {}, legendG);
  
  
  mk('circle', {cx:4434, cy:legendRowY[k], r:19, fill:colors[k]}, eg);
  const t = mk('text', {x:4537, y:legendRowY[k]+24, 'font-size':68, fill:'#000'}, eg);
  t.textContent = ph;
});
</script>
</body></html>
